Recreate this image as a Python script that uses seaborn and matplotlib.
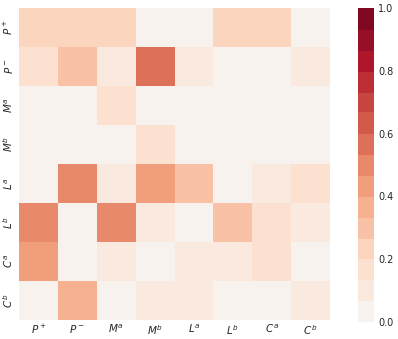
import numpy as np
import pandas as pd
import seaborn as sns
import matplotlib
matplotlib.use("Agg")
import matplotlib.pyplot as plt

labels = [r"$P^+$", r"$P^-$", r"$M^a$", r"$M^b$", r"$L^a$", r"$L^b$", r"$C^a$", r"$C^b$"]

row_P_plus  = [0.23, 0.23, 0.23, 0.02, 0.02, 0.23, 0.23, 0.02]
row_P_minus = [0.17, 0.30, 0.10, 0.56, 0.10, 0.02, 0.02, 0.10]
row_M_a     = [0.02, 0.02, 0.17, 0.02, 0.02, 0.02, 0.02, 0.02]
row_M_b     = [0.02, 0.02, 0.02, 0.17, 0.02, 0.02, 0.02, 0.02]
row_L_a     = [0.02, 0.50, 0.10, 0.43, 0.30, 0.02, 0.10, 0.17]
row_L_b     = [0.50, 0.02, 0.50, 0.10, 0.02, 0.30, 0.17, 0.10]
row_C_a     = [0.43, 0.02, 0.10, 0.02, 0.10, 0.10, 0.17, 0.02]
row_C_b     = [0.02, 0.37, 0.02, 0.10, 0.10, 0.02, 0.02, 0.10]

data = pd.DataFrame([row_P_plus, row_P_minus, row_M_a, row_M_b,
                     row_L_a, row_L_b, row_C_a, row_C_b],
                    index=labels, columns=labels)

sns.set_theme()
fig = plt.figure(figsize=(3.98, 3.39), dpi=100)
ax = fig.add_axes([19/398, 1 - 320/339, 311/398, 312/339])
cax = fig.add_axes([358/398, 1 - 322/339, 16/398, 314/339])

cmap = sns.color_palette("RdBu_r", 30)
sns.heatmap(data, ax=ax, cbar_ax=cax, cmap=cmap, center=0, vmin=0, vmax=1)
ax.tick_params(axis="y", rotation=90, labelsize=7.5, pad=3, length=0)
ax.tick_params(axis="x", rotation=0, labelsize=7.5, pad=2, length=0)
for t in ax.get_yticklabels():
    t.set_va("center")
cax.tick_params(labelsize=7, pad=3, length=0)
fig.savefig("out.png", dpi=100)
